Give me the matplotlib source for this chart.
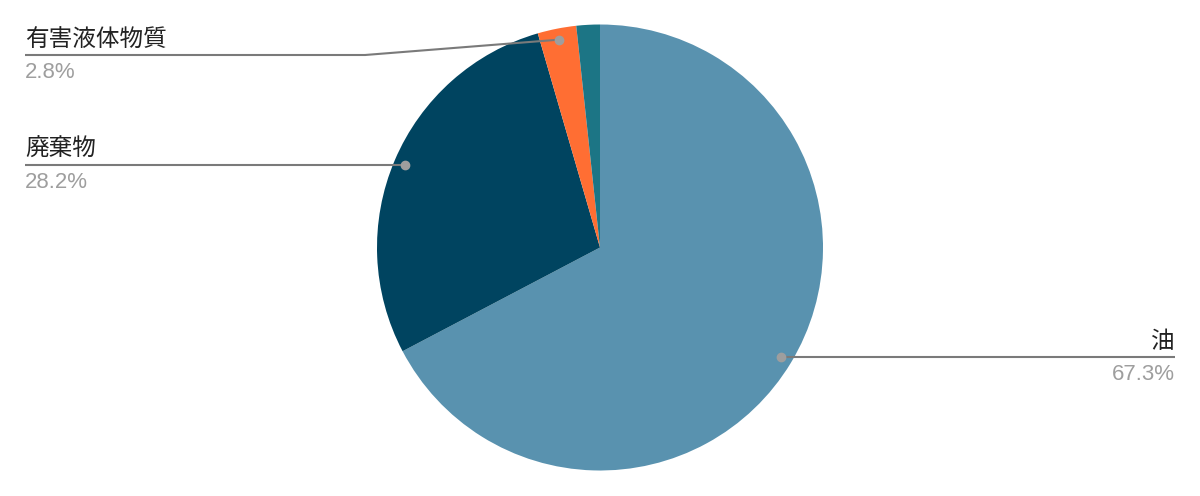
import numpy as np
import matplotlib.pyplot as plt

# slice data (clockwise from 12 o'clock)
labels = ['油', '廃棄物', '有害液体物質', '']
values = [67.3, 28.2, 2.8, 1.7]
pct_labels = ['67.3%', '28.2%', '2.8%', '']
colors = ['#5992AF', '#004460', '#FF6E33', '#1C7585']

W, H = 1200, 496
fig = plt.figure(figsize=(12, 4.96), dpi=100)
ax = fig.add_axes([0, 0, 1, 1])

cx, cy, r = 600, H - 247.5, 223
ax.pie(values, colors=colors, startangle=90, counterclock=False,
       center=(cx, cy), radius=r, wedgeprops=dict(linewidth=0))
ax.set_xlim(0, W)
ax.set_ylim(0, H)
ax.set_aspect('equal')
ax.axis('off')

line_c = '#7a7a7a'
dot_c = '#9e9e9e'
total = sum(values)
cum = 0
for lab, pct, v in zip(labels, pct_labels, values):
    mid = 90 - 360 * (cum + v / 2) / total
    cum += v
    if not lab:
        continue
    a = np.deg2rad(mid)
    px = cx + 0.95 * r * np.cos(a)
    py = cy + 0.95 * r * np.sin(a)
    ly = min(py, H - 55)
    if np.cos(a) > 0:
        xs, ys = [px, 1175], [ly, ly]
        tx, ha = 1175, 'right'
    else:
        if ly != py:
            xs, ys = [px, 365, 25], [py, ly, ly]
        else:
            xs, ys = [px, 25], [ly, ly]
        tx, ha = 25, 'left'
    ax.plot(xs, ys, color=line_c, lw=1.5, solid_capstyle='butt', zorder=3)
    ax.plot([px], [py], 'o', color=dot_c, ms=6, zorder=4)
    ax.text(tx, ly + 4, lab, ha=ha, va='bottom', fontsize=17, color='#222222',
            family=['Noto Sans CJK JP', 'DejaVu Sans'])
    ax.text(tx, ly - 7, pct, ha=ha, va='top', fontsize=16, color='#9e9e9e',
            family=['Liberation Sans', 'DejaVu Sans'])

fig.savefig('out.png', dpi=100)
